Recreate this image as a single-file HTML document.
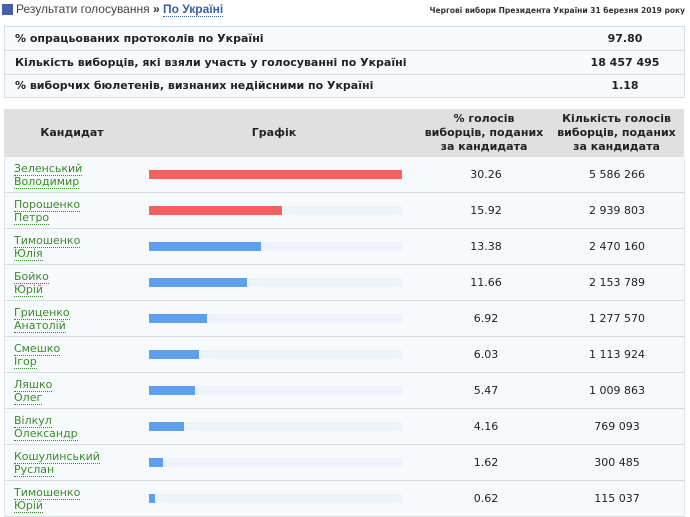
<!DOCTYPE html><html><head><meta charset="utf-8"><style>
body{margin:0;width:690px;height:517px;background:#fff;font-family:"DejaVu Sans",Verdana,sans-serif;position:relative;overflow:hidden;color:#222}
.a{position:absolute}
.info{left:4px;top:26px;width:679px;height:70px;border:1px solid #d8dde2;background:#f7fafc}
.ir{position:absolute;left:0;width:679px;height:23px;border-bottom:1px solid #d8dde2;font-weight:bold;font-size:11px;line-height:23px;white-space:nowrap}
.ir span{position:absolute;left:10px}
.ir b{position:absolute;left:570px;width:100px;text-align:center}
.hd{left:4px;top:109px;width:680px;height:48px;background:#e0e0e0;font-weight:bold;font-size:11px;text-align:center}
.hd div{position:absolute;line-height:14px}
.row{position:absolute;left:4px;width:679px;height:35px;border-bottom:1px solid #d8dde2;border-left:1px solid #e4e8ec;border-right:1px solid #e4e8ec;background:#f7fafc;font-size:11px}
.nm{position:absolute;left:9px;top:5px;color:#3a8a2a;line-height:13px;font-size:11px}
.nm span{border-bottom:1px dotted #3a8a2a}
.bg{position:absolute;left:144px;top:13px;width:253px;height:9px;background:#eef3fb}
.br{position:absolute;left:0;top:0;height:9px}
.p{position:absolute;left:431px;width:100px;text-align:center;top:11px}
.c{position:absolute;left:562px;width:100px;text-align:center;top:11px}
</style></head><body>
<div class="a" style="left:2px;top:4px;width:11px;height:11px;background:#4a5ea8"></div>
<div class="a" style="left:16px;top:2px;font-size:12px;color:#444;font-family:'Liberation Sans',sans-serif;white-space:nowrap">Результати голосування <b style="color:#333">»</b> <b style="color:#3a5fa0;border-bottom:1px dotted #3a5fa0">По Україні</b></div>
<div class="a" style="right:5px;top:6px;font-size:7.5px;font-weight:bold;color:#333;white-space:nowrap">Чергові вибори Президента України 31 березня 2019 року</div>
<div class="a info">
<div class="ir" style="top:0"><span>% опрацьованих протоколів по Україні</span><b>97.80</b></div>
<div class="ir" style="top:24px"><span>Кількість виборців, які взяли участь у голосуванні по Україні</span><b>18 457 495</b></div>
<div class="ir" style="top:47px;border-bottom:none"><span>% виборчих бюлетенів, визнаних недійсними по Україні</span><b>1.18</b></div>
</div>
<div class="a hd">
<div style="left:18px;width:100px;top:17px">Кандидат</div>
<div style="left:200px;width:140px;top:17px">Графік</div>
<div style="left:415px;width:130px;top:3px">% голосів<br>виборців, поданих<br>за кандидата</div>
<div style="left:545px;width:135px;top:3px">Кількість голосів<br>виборців, поданих<br>за кандидата</div>
</div>
<div class="row" style="top:157px"><div class="nm"><span>Зеленський</span><br><span>Володимир</span></div><div class="bg"><div class="br" style="width:253px;background:#f86060"></div></div><div class="p">30.26</div><div class="c">5 586 266</div></div>
<div class="row" style="top:193px"><div class="nm"><span>Порошенко</span><br><span>Петро</span></div><div class="bg"><div class="br" style="width:133px;background:#f86060"></div></div><div class="p">15.92</div><div class="c">2 939 803</div></div>
<div class="row" style="top:229px"><div class="nm"><span>Тимошенко</span><br><span>Юлія</span></div><div class="bg"><div class="br" style="width:112px;background:#5f9ff0"></div></div><div class="p">13.38</div><div class="c">2 470 160</div></div>
<div class="row" style="top:265px"><div class="nm"><span>Бойко</span><br><span>Юрій</span></div><div class="bg"><div class="br" style="width:98px;background:#5f9ff0"></div></div><div class="p">11.66</div><div class="c">2 153 789</div></div>
<div class="row" style="top:301px"><div class="nm"><span>Гриценко</span><br><span>Анатолій</span></div><div class="bg"><div class="br" style="width:58px;background:#5f9ff0"></div></div><div class="p">6.92</div><div class="c">1 277 570</div></div>
<div class="row" style="top:337px"><div class="nm"><span>Смешко</span><br><span>Ігор</span></div><div class="bg"><div class="br" style="width:50px;background:#5f9ff0"></div></div><div class="p">6.03</div><div class="c">1 113 924</div></div>
<div class="row" style="top:373px"><div class="nm"><span>Ляшко</span><br><span>Олег</span></div><div class="bg"><div class="br" style="width:46px;background:#5f9ff0"></div></div><div class="p">5.47</div><div class="c">1 009 863</div></div>
<div class="row" style="top:409px"><div class="nm"><span>Вілкул</span><br><span>Олександр</span></div><div class="bg"><div class="br" style="width:35px;background:#5f9ff0"></div></div><div class="p">4.16</div><div class="c">769 093</div></div>
<div class="row" style="top:445px"><div class="nm"><span>Кошулинський</span><br><span>Руслан</span></div><div class="bg"><div class="br" style="width:14px;background:#5f9ff0"></div></div><div class="p">1.62</div><div class="c">300 485</div></div>
<div class="row" style="top:481px"><div class="nm"><span>Тимошенко</span><br><span>Юрій</span></div><div class="bg"><div class="br" style="width:6px;background:#5f9ff0"></div></div><div class="p">0.62</div><div class="c">115 037</div></div>
</body></html>
